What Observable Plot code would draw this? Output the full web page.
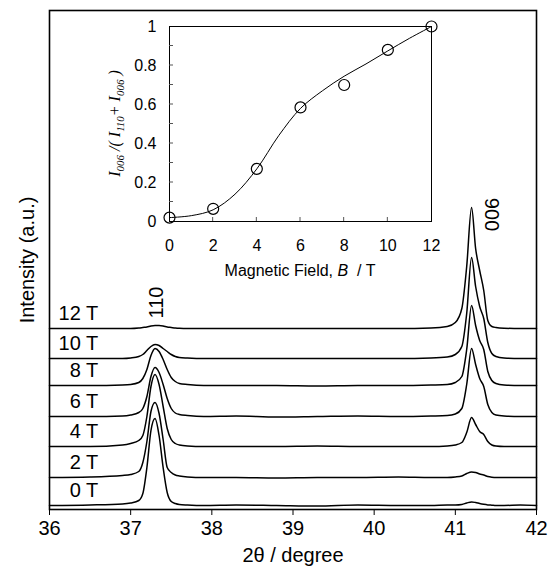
<!DOCTYPE html>
<html><head><meta charset="utf-8">
<script src="https://cdn.jsdelivr.net/npm/d3@7"></script>
<script src="https://cdn.jsdelivr.net/npm/@observablehq/plot@0.6"></script>
<style>
body{margin:0;background:#fff;}
#wrap{position:relative;width:555px;height:566px;}
#wrap svg{position:absolute;left:0;top:0;}
</style></head><body><div id="wrap"></div>
<script>
// ---------- data: XRD patterns ----------
const twoTheta = [36.0, 36.5, 36.9, 37.0, 37.1, 37.15, 37.2, 37.25, 37.3, 37.35, 37.4, 37.45, 37.5, 37.55, 37.6, 37.7, 37.9, 38.3, 38.8, 39.3, 39.8, 40.3, 40.7, 40.9, 41.0, 41.08, 41.14, 41.2, 41.25, 41.3, 41.35, 41.4, 41.45, 41.5, 41.6, 41.8, 42.0];
const fields = ["0 T", "2 T", "4 T", "6 T", "8 T", "10 T", "12 T"];
const offsets = [0, 28, 59, 89, 120, 147, 177];
const int0T  = [0, 0.5, 1.5, 2.5, 5, 12, 38, 75, 87, 70, 38, 13, 4, 2, 1, 0.5, 0, 0.5, 0, -0.5, 0.5, 0, 0, 0.5, 0.5, 1, 2.5, 3.6, 3, 2, 1.2, 0.6, 0.3, 0, 0, 0.5, 0];
const int2T  = [0, 0.5, 2, 3, 6, 15, 36, 66, 75, 64, 38, 10, 5, 2.5, 1.5, 0.5, 0, 0, -0.5, 0, 0, 0.5, 0, 0, 0.5, 1.5, 4, 5.6, 5, 3.5, 2.5, 1, 0.3, 0, 0, 0, 0];
const int4T  = [0, 0, 1.5, 3, 6, 11, 30, 60, 72, 62, 40, 18, 7, 3, 1.5, 0.5, 0, 0, 0, 0.5, 0, 0, 0, 0.5, 1.5, 4, 14, 29, 22, 15, 12, 5, 1.5, 0.5, 0, 0, 0];
const int6T  = [0, 0, 0.5, 1.5, 4, 8, 20, 40, 49, 44, 32, 18, 8, 3.5, 2, 1, 0, 0.5, -0.5, 0, 0.5, 0, 0.5, 1, 2.5, 8, 32, 68, 52, 38, 30, 12, 4, 1.5, 0.5, 0, 0];
const int8T  = [0, 0, 0.5, 1, 3, 7, 16, 30, 37, 34, 26, 16, 8, 4, 2, 1, 0, 0, 0, -0.5, 0, 0, 0.5, 1, 3, 9, 36, 80, 60, 45, 36, 14, 5, 2, 0.5, 0, 0];
const int10T = [0, 0, 0, 0.5, 2, 4, 8, 12, 14, 13, 10, 7, 4, 2, 1, 0.5, 0, 0, 0, 0, 0, 0, 0.5, 1.5, 4, 12, 45, 101, 72, 52, 40, 16, 5, 2, 0.5, 0, 0];
const int12T = [0, 0, 0, 0, 0.5, 1, 1.5, 2.5, 3, 3, 2.5, 1.5, 1, 0.5, 0.2, 0, 0, 0, 0, 0, 0, 0, 0.5, 2, 6, 20, 62, 121, 80, 58, 38, 8, 2, 1, 0.3, 0, 0];
const intensities = [int0T, int2T, int4T, int6T, int8T, int10T, int12T];
const xTicks = [36, 37, 38, 39, 40, 41, 42];
const peakLabels = ["110", "006"];
const peakX = [37.32, 41.46];
const peakY = [203, 291];
const labelX = 36.6;

// ---------- data: inset ----------
const fieldB = [0, 2, 4, 6, 8, 10, 12];
const ratio = [0.02, 0.065, 0.27, 0.585, 0.70, 0.88, 1.0];
const fitB = [0, 1, 2, 3, 4, 5, 6, 7, 8, 9, 10, 11, 12];
const fitR = [0.02, 0.03, 0.06, 0.14, 0.27, 0.44, 0.58, 0.67, 0.745, 0.808, 0.875, 0.94, 1.0];
const bTicks = [0, 2, 4, 6, 8, 10, 12];
const bInner = [2, 4, 6, 8, 10];
const rTicks = [0, 0.2, 0.4, 0.6, 0.8, 1];
const rTickLabels = ["0", "0.2", "0.4", "0.6", "0.8", "1"];
const rInner = [0.1, 0.2, 0.3, 0.4, 0.5, 0.6, 0.7, 0.8, 0.9];

const SANS = "'Liberation Sans', Arial, Helvetica, sans-serif";
const SERIF = "'Liberation Serif', 'Times New Roman', serif";

const rows = [];
intensities.forEach((arr, i) => arr.forEach((v, j) => rows.push({field: fields[i], x: twoTheta[j], y: offsets[i] + v})));

const main = Plot.plot({
  width: 555, height: 566,
  marginLeft: 49, marginRight: 19, marginTop: 10, marginBottom: 57,
  style: {fontFamily: SANS, fontSize: "20px", color: "black", background: "white"},
  x: {domain: [36, 42]},
  y: {domain: [-4, 495], axis: null},
  marks: [
    Plot.axisX({ticks: xTicks, tickSize: 6, tickPadding: 5, tickFormat: d => String(d), label: null, fontSize: 20}),
    Plot.line(rows, {x: "x", y: "y", z: "field", curve: "monotone-x", stroke: "black", strokeWidth: 1.5}),
    Plot.text(fields, {x: () => labelX, y: (d, i) => offsets[i], text: d => d, dy: -15, textAnchor: "end", fontSize: 20}),
    Plot.text(peakLabels, {x: (d, i) => peakX[i], y: (d, i) => peakY[i], text: d => d, rotate: -90, fontSize: 20}),
    Plot.text(["2θ / degree"], {frameAnchor: "bottom", dy: 46, lineAnchor: "middle", textAnchor: "middle", text: d => d, fontSize: 20}),
    Plot.text(["Intensity (a.u.)"], {frameAnchor: "left", dx: -22, rotate: -90, textAnchor: "middle", lineAnchor: "middle", text: d => d, fontSize: 20}),
    Plot.frame({stroke: "black", strokeWidth: 1.6})
  ]
});

const inset = Plot.plot({
  width: 555, height: 300,
  marginLeft: 169, marginRight: 124, marginTop: 26, marginBottom: 79,
  style: {fontFamily: SANS, fontSize: "16px", color: "black", background: "transparent"},
  x: {domain: [0, 12]},
  y: {domain: [0, 1]},
  marks: [
    Plot.frame({stroke: "black", strokeWidth: 1}),
    Plot.axisX({ticks: bTicks, tickSize: 0, tickPadding: 18, label: null, fontSize: 16}),
    Plot.axisY({ticks: rTicks, tickSize: 0, tickPadding: 13, tickFormat: d => rTickLabels[rTicks.indexOf(d)], label: null, fontSize: 16}),
    Plot.line(fitB.map((b, i) => ({b, r: fitR[i]})), {x: "b", y: "r", curve: "catmull-rom", stroke: "black", strokeWidth: 1}),
    Plot.dot(fieldB.map((b, i) => ({b, r: ratio[i]})), {x: "b", y: "r", r: 5.5, stroke: "black", fill: "none", strokeWidth: 1.2})
  ]
});

document.getElementById("wrap").append(main, inset);

const sx = inset.scale("x"), sy = inset.scale("y");
const isv = d3.select(inset);

// inward ticks of the inset, placed through the inset's scales
const tg = isv.append("g").attr("stroke", "#555").attr("stroke-width", 1);
for (const b of bInner) {
  tg.append("line").attr("x1", sx.apply(b)).attr("x2", sx.apply(b))
    .attr("y1", sy.apply(0)).attr("y2", sy.apply(0) - 4);
}
for (const r of rInner) {
  tg.append("line").attr("x1", sx.apply(0)).attr("x2", sx.apply(0) + 4)
    .attr("y1", sy.apply(r)).attr("y2", sy.apply(r));
}

// axis titles of inset with italic parts and subscripts
const xt = isv.append("text")
  .attr("x", sx.apply(6)).attr("y", sy.apply(0) + 55)
  .attr("text-anchor", "middle").attr("font-family", SANS).attr("font-size", 16).attr("fill", "black");
xt.append("tspan").text("Magnetic Field, ");
xt.append("tspan").attr("font-style", "italic").text("B");
xt.append("tspan").attr("xml:space", "preserve").text("  / T");

const yt = isv.append("text")
  .attr("transform", `translate(${sx.apply(0) - 49},${sy.apply(0.5)}) rotate(-90)`)
  .attr("text-anchor", "middle").attr("font-family", SERIF).attr("font-style", "italic")
  .attr("font-size", 16).attr("fill", "black");
const parts = [["I", 0], ["006", 1], [" /( ", 0], ["I", 0], ["110", 1], ["+ ", 0], ["I", 0], ["006", 1], [" )", 0]];
let prevSub = 0;
for (const [t, sub] of parts) {
  const ts = yt.append("tspan").text(t);
  if (sub) ts.attr("font-size", 11);
  const dy = (sub - prevSub) * 4;
  if (dy) ts.attr("dy", dy);
  prevSub = sub;
}
</script></body></html>
